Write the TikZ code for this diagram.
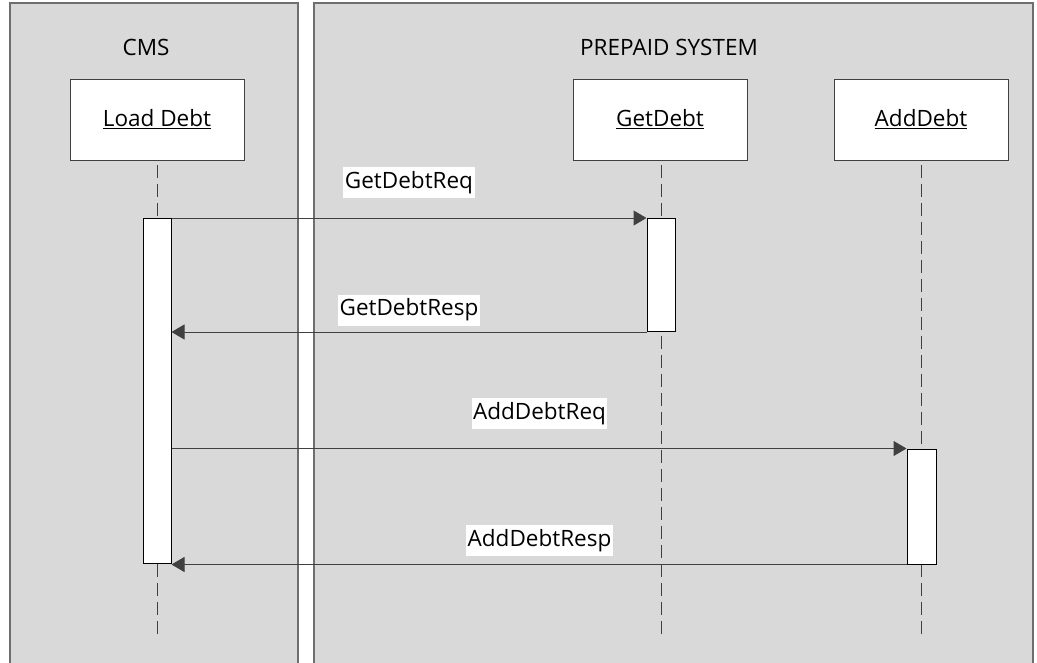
\documentclass[tikz,border=0pt]{standalone}
\usepackage{fontspec}
\setmainfont{Open Sans}
\usetikzlibrary{arrows.meta}
\definecolor{panelfill}{HTML}{D9D9D9}
\definecolor{panelline}{HTML}{6E6E6E}
\definecolor{lineclr}{HTML}{404040}
\newcommand{\dfont}{\fontsize{22.5}{26}\selectfont}
\begin{document}
\begin{tikzpicture}[x=1pt,y=-1pt,
  lifebox/.style={draw=lineclr,fill=white,line width=1pt,minimum width=174pt,minimum height=81pt,inner sep=0pt,font=\dfont},
  title/.style={font=\dfont,inner sep=0pt},
  lifeline/.style={draw=lineclr,line width=1pt,dash pattern=on 13pt off 6pt},
  actbar/.style={draw=black,fill=white,line width=1pt,inner sep=0pt,anchor=north},
  msg/.style={draw=lineclr,line width=1pt,-{Triangle[length=13pt,width=15pt]}},
  msglabel/.style={fill=white,inner xsep=1.5pt,inner ysep=0pt,minimum height=31pt,font=\dfont}
]
\useasboundingbox (0,0) rectangle (1037,662);
\fill[white] (0,0) rectangle (1037,662);
% panels (open at the bottom)
\fill[panelfill] (10,3) rectangle (298,663);
\draw[panelline,line width=1.2pt] (10,663) -- (10,3) -- (298,3) -- (298,663);
\fill[panelfill] (314,3) rectangle (1033,663);
\draw[panelline,line width=1.2pt] (314,663) -- (314,3) -- (1033,3) -- (1033,663);
% titles
\node[title] (cms) at (146,47) {CMS};
\node[title] (pps) at (669,47) {PREPAID SYSTEM};
% lifeline heads
\node[lifebox] (ld) at (157,119.5) {\underline{Load Debt}};
\node[lifebox] (gd) at (660,119.5) {\underline{GetDebt}};
\node[lifebox] (ad) at (921,119.5) {\underline{AddDebt}};
% lifelines
\coordinate (ldend) at (157,638);
\coordinate (gdend) at (661,638);
\coordinate (adend) at (921,638);
\draw[lifeline] (ld.south) ++(0,4) -- (ldend);
\draw[lifeline] (gd.south) ++(1,4) -- (gdend);
\draw[lifeline] (ad.south) ++(0,4) -- (adend);
% activation bars
\node[actbar,minimum width=28pt,minimum height=345pt] (ldact) at (157,218) {};
\node[actbar,minimum width=28pt,minimum height=113pt] (gdact) at (661,218) {};
\node[actbar,minimum width=29pt,minimum height=115pt] (adact) at (921.5,448.5) {};
% messages
\draw[msg] (ldact.north east) -- (gdact.north west);
\draw[msg] (gdact.south west) -- (gdact.south west -| ldact.east);
\draw[msg] (ldact.east |- adact.north) -- (adact.north west);
\draw[msg] (adact.south west) -- (adact.south west -| ldact.east);
% message labels
\node[msglabel] (l1) at (409,182.5) {GetDebtReq};
\node[msglabel] (l2) at (409,310) {GetDebtResp};
\node[msglabel] (l3) at (539.5,413.5) {AddDebtReq};
\node[msglabel] (l4) at (539.5,540.5) {AddDebtResp};
\end{tikzpicture}
\end{document}
